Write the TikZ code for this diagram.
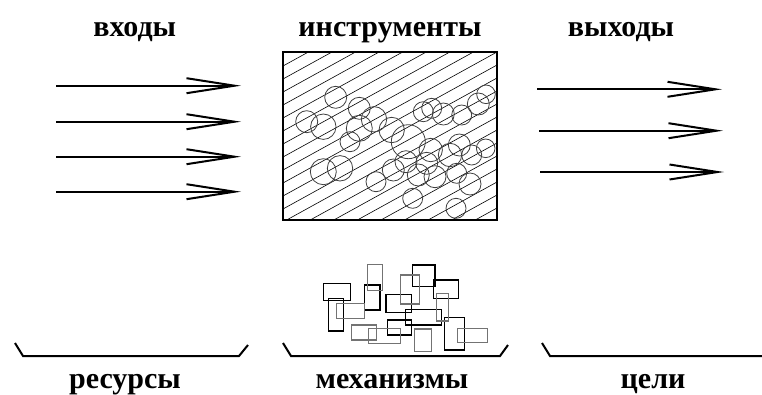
\documentclass[tikz,border=0pt]{standalone}
\usepackage{fontspec}
\setmainfont{Liberation Serif}
\usetikzlibrary{arrows.meta}
\begin{document}
\begin{tikzpicture}[x=1pt,y=-1pt,
  lbl/.style={font=\fontsize{30}{30}\selectfont\bfseries, anchor=base, inner sep=0pt},
  flow/.style={line width=2pt, -{Straight Barb[length=48pt,width=15pt,line width=2pt]}},
  brk/.style={line width=2pt},
  blob/.style={draw=black!75, line width=0.8pt},
  part/.style={draw=black, line width=1.1pt},
  partg/.style={draw=black!55, line width=1.3pt},
  hatch/.style={line width=0.6pt}
]
\useasboundingbox (0,0) rectangle (762,394);

% labels
\node[lbl] (in)  at (134.7,36.5) {входы};
\node[lbl] (ins) at (390,36.5) {инструменты};
\node[lbl] (out) at (621,36.5) {выходы};
\node[lbl] (res) at (125,388) {ресурсы};
\node[lbl] (mech) at (392,388) {механизмы};
\node[lbl] (goal) at (653,388) {цели};

% input arrows
\foreach \i/\y in {1/85.7,2/121.7,3/156.7,4/191.7}{
  \coordinate (ia\i) at (56,\y);
  \coordinate (ib\i) at (241,\y);
  \draw[flow] (ia\i) -- (ib\i);
}
% output arrows
\foreach \i/\y/\xa/\xb in {1/89.3/537/722,2/130.7/539/723,3/172/540/724}{
  \coordinate (oa\i) at (\xa,\y);
  \coordinate (ob\i) at (\xb,\y);
  \draw[flow] (oa\i) -- (ob\i);
}

% instruments box
\coordinate (bx1) at (283,52);
\coordinate (bx2) at (497,220);
\begin{scope}
  \clip (bx1) rectangle (bx2);
  \foreach \c in {40,53,...,380}{
    \draw[hatch] (283,\c) -- (497,\c-118);
  }
  \foreach \x/\y/\r in {
    335.7/97.3/11, 306.7/121.7/11, 323.3/126.7/12.7, 359.3/108.3/11,
    374/119.3/12.7, 359.3/128.3/13, 350/141.7/10, 391.7/130/12.7,
    408.3/141.7/17, 423.3/111.7/10, 431.7/108.3/10, 443.3/114/11,
    461.7/115/10, 478.3/104/11, 486/94.3/9.3, 323.3/171.7/13,
    340/168.3/12.7, 376/181.7/10, 393.3/170/11, 406/161.7/11,
    430.7/150/11.7, 426.7/163.3/11, 418.3/175/11, 435/176.7/11,
    450/155/11.7, 459.3/145/11, 471.7/155/10, 485.7/148.3/9.3,
    456.7/173.3/10, 470/184/11, 412.7/198.3/10, 456/208.3/10}{
    \draw[blob] (\x,\y) circle (\r);
  }
\end{scope}
\draw[line width=2pt] (bx1) rectangle (bx2);

% mechanism parts
\foreach \a/\b/\c/\d in {
  323.3/283.3/350.7/300.7, 328.3/298.3/343.3/331, 364.3/285/380/310,
  387.7/320/411.7/335, 412.3/265/435/286.7, 433.3/280/458.3/298.3,
  405.7/309.3/441.7/325, 444.3/317.3/464.3/350, 386/294.3/411.7/312.7}{
  \draw[part] (\a,\b) rectangle (\c,\d);
}
\foreach \a/\b/\c/\d in {
  367.7/264.3/382.3/290.7, 336.7/303.3/364.3/318.3, 351.7/325/376.7/340,
  368.3/328.3/400.7/343.3, 400.7/275/419.3/304, 436.7/293.3/448.3/321,
  414.3/329/431.7/351.7, 457.7/328.3/487.3/342.3}{
  \draw[partg] (\a,\b) rectangle (\c,\d);
}

% brackets
\draw[brk] (15,343) -- (23,356) -- (239,356) -- (248,345);
\draw[brk] (283,343) -- (291,356) -- (500,356) -- (508,345);
\draw[brk] (542,343) -- (550,356) -- (762,356);
\end{tikzpicture}
\end{document}
